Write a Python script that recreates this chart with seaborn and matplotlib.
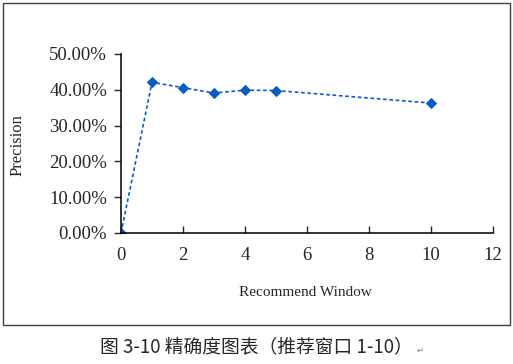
import matplotlib
matplotlib.use("Agg")
import matplotlib.pyplot as plt
import matplotlib.patches as mpatches
from matplotlib.ticker import PercentFormatter
import pandas as pd
import seaborn as sns

# ── Data ─────────────────────────────────────────────────────────────────────
window = [0, 1, 2, 3, 4, 5, 10]
precision = [0.0, 0.421, 0.406, 0.391, 0.399, 0.398, 0.363]
x_ticks = [0, 2, 4, 6, 8, 10, 12]
y_ticks = [0.0, 0.1, 0.2, 0.3, 0.4, 0.5]

df = pd.DataFrame({"window": window, "precision": precision})

sns.set_style("ticks")
plt.rcParams["font.family"] = ["Liberation Serif", "DejaVu Serif"]

fig = plt.figure(figsize=(5.13, 3.64), dpi=100)
ax = fig.add_axes([121 / 513, 1 - 233 / 364, (493 - 121) / 513, (233 - 54) / 364])

sns.lineplot(data=df, x="window", y="precision", ax=ax, color="#0b5cc4",
             linestyle=(0, (2.2, 1.6)), linewidth=1.2, marker="D",
             markersize=5.5, markeredgecolor="#0b5cc4")

ax.set_xlim(0, 12)
ax.set_ylim(0, 0.5)
ax.set_xticks(x_ticks)
ax.set_yticks(y_ticks)
ax.yaxis.set_major_formatter(PercentFormatter(1.0, decimals=2))
ax.tick_params(axis="x", direction="in", length=5, width=1, labelsize=13.5, pad=10)
ax.tick_params(axis="y", direction="out", length=5, width=1, labelsize=13.5, pad=5)
for side in ["top", "right"]:
    ax.spines[side].set_visible(False)
for side in ["left", "bottom"]:
    ax.spines[side].set_linewidth(1.1)
    ax.spines[side].set_color("black")
ax.set_xlabel("")
ax.set_ylabel("")

fig.text(18 / 513, 1 - 145 / 364, "Precision", rotation=90, ha="center",
         va="center", fontsize=12)
fig.text(305 / 513, 1 - 293 / 364, "Recommend Window", ha="center",
         va="center", fontsize=11)

# outer chart frame
fig.patches.append(mpatches.Rectangle((3 / 513, 1 - 325 / 364), 507 / 513,
                                      322 / 364, transform=fig.transFigure,
                                      fill=False, edgecolor="#404040",
                                      linewidth=1.0))

fig.text(100 / 513, 1 - 348 / 364, "图 3-10 精确度图表（推荐窗口 1-10）",
         ha="left", va="center", fontsize=13.5,
         family=["Noto Sans CJK SC", "DejaVu Sans"])
fig.text(417 / 513, 1 - 350 / 364, "↵", ha="left", va="center", fontsize=6,
         color="#808080", family=["DejaVu Sans"])

fig.savefig("out.png", dpi=100)
